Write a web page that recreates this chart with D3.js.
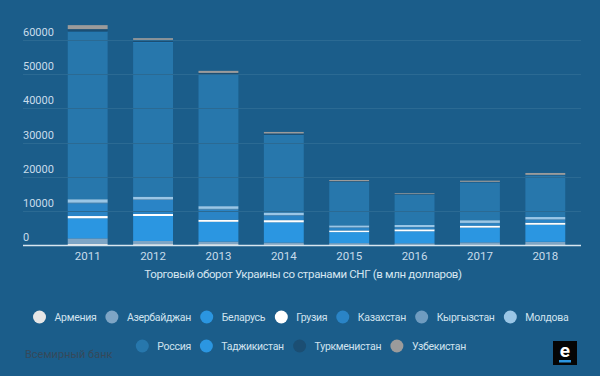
<!DOCTYPE html>
<html>
<head>
<meta charset="utf-8">
<script src="https://cdn.jsdelivr.net/npm/d3@7"></script>
<style>
  html, body { margin: 0; padding: 0; background: #1b5d8a; }
  svg { display: block; font-family: Roboto, "Noto Sans", sans-serif; }
</style>
</head>
<body>
<div id="chart"></div>
<script>
// Trade turnover of Ukraine with CIS countries, mln USD

const years = ['2011', '2012', '2013', '2014', '2015', '2016', '2017', '2018'];
const yTicks = [0, 10000, 20000, 30000, 40000, 50000, 60000];

const countries = ['Армения', 'Азербайджан', 'Беларусь', 'Грузия', 'Казахстан', 'Кыргызстан',
    'Молдова', 'Россия', 'Таджикистан', 'Туркменистан', 'Узбекистан'];
const colors = ['#e6e6e6', '#7ea5c5', '#2b96e1', '#ffffff', '#2a84c6', '#6f9cc0',
    '#9ac6e6', '#2777ac', '#2b96e1', '#1b4e73', '#9b9b9b'];

const armenia      = [300, 250, 250, 150, 100, 100, 150, 150];
const azerbaijan   = [1650, 920, 770, 580, 450, 400, 630, 800];
const belarus      = [5860, 7320, 5770, 5900, 3220, 3510, 4300, 4980];
const georgia      = [670, 590, 590, 650, 500, 590, 600, 600];
const kazakhstan   = [3720, 4100, 3020, 1350, 800, 590, 700, 880];
const kyrgyzstan   = [200, 200, 180, 120, 80, 70, 80, 80];
const moldova      = [1000, 770, 790, 760, 600, 600, 800, 700];
const russia       = [48900, 45100, 38400, 22630, 12670, 8830, 11020, 12140];
const tajikistan   = [150, 150, 150, 100, 60, 50, 50, 50];
const turkmenistan = [730, 640, 450, 400, 200, 150, 150, 150];
const uzbekistan   = [1170, 500, 600, 450, 350, 250, 350, 550];

const series = [armenia, azerbaijan, belarus, georgia, kazakhstan, kyrgyzstan,
    moldova, russia, tajikistan, turkmenistan, uzbekistan];

const width = 600, height = 376;

const svg = d3.select('#chart').append('svg')
    .attr('width', width)
    .attr('height', height);

// Build rows for the stack
const rows = years.map((yr, i) => {
    const row = { year: yr };
    countries.forEach((c, j) => { row[c] = series[j][i]; });
    return row;
});
const stacked = d3.stack().keys(countries)(rows);

// Scales
const x = d3.scaleBand()
    .domain(years)
    .range([55, 578])
    .paddingInner(0.39)
    .paddingOuter(0.195);

const y = d3.scaleLinear()
    .domain([0, 60000])
    .range([245, 40]);

const gridLeft = 23, gridRight = 581;

// Bars
svg.append('g')
    .selectAll('g')
    .data(stacked)
    .join('g')
    .attr('fill', (d, i) => colors[i])
    .selectAll('rect')
    .data(d => d)
    .join('rect')
    .attr('x', d => x(d.data.year))
    .attr('width', x.bandwidth())
    .attr('y', d => y(d[1]))
    .attr('height', d => Math.max(0, y(d[0]) - y(d[1])));

// Grid lines (drawn over bars, subtle)
svg.append('g')
    .selectAll('line')
    .data(yTicks.filter(t => t > 0))
    .join('line')
    .attr('x1', gridLeft)
    .attr('x2', gridRight)
    .attr('y1', d => Math.round(y(d)) + 0.5)
    .attr('y2', d => Math.round(y(d)) + 0.5)
    .attr('stroke', '#2b6a93')
    .attr('stroke-width', 1);

// Baseline
svg.append('line')
    .attr('x1', gridLeft)
    .attr('x2', gridRight)
    .attr('y1', y(0) + 0.5)
    .attr('y2', y(0) + 0.5)
    .attr('stroke', '#d8e6f0')
    .attr('stroke-width', 1.5);

// Y tick labels (above the lines)
svg.append('g')
    .selectAll('text')
    .data(yTicks)
    .join('text')
    .attr('x', gridLeft)
    .attr('y', d => y(d) - 4)
    .attr('fill', '#c8dcea')
    .attr('font-size', 11)
    .text(d => d);

// X axis labels
svg.append('g')
    .selectAll('text')
    .data(years)
    .join('text')
    .attr('x', d => x(d) + x.bandwidth() / 2)
    .attr('y', 260)
    .attr('text-anchor', 'middle')
    .attr('fill', '#c8dcea')
    .attr('font-size', 11.5)
    .text(d => d);

// Axis title
svg.append('text')
    .attr('x', 303)
    .attr('y', 278)
    .attr('text-anchor', 'middle')
    .attr('fill', '#d6e6f1')
    .attr('font-size', 11.5)
    .attr('letter-spacing', -0.35)
    .text('Торговый оборот Украины со странами СНГ (в млн долларов)');

// Legend, two centered rows
const legendRows = [
    { y: 317, items: d3.range(0, 7) },
    { y: 346, items: d3.range(7, 11) }
];

legendRows.forEach(r => {
    const g = svg.append('g');
    let cx = 0;
    r.items.forEach(idx => {
        const item = g.append('g').attr('transform', `translate(${cx},0)`);
        item.append('circle')
            .attr('cx', 0)
            .attr('cy', r.y)
            .attr('r', 6.5)
            .attr('fill', colors[idx]);
        const t = item.append('text')
            .attr('x', 15)
            .attr('y', r.y + 4)
            .attr('fill', '#d0e2ee')
            .attr('font-size', 10.5)
            .attr('letter-spacing', -0.3)
            .text(countries[idx]);
        const w = t.node().getBBox().width;
        cx += 15 + w + 15.5;
    });
    const total = cx - 15.5 + 6.5;
    g.attr('transform', `translate(${301 - total / 2 + 6.5},0)`);
});

// Source
svg.append('text')
    .attr('x', 25)
    .attr('y', 358)
    .attr('fill', '#35495a')
    .attr('font-size', 11)
    .text('Всемирный банк');

// Logo
const logo = svg.append('g').attr('transform', 'translate(553,341)');
logo.append('rect')
    .attr('width', 24)
    .attr('height', 24)
    .attr('fill', '#050505');
logo.append('text')
    .attr('x', 12)
    .attr('y', 16)
    .attr('text-anchor', 'middle')
    .attr('fill', '#ffffff')
    .attr('font-size', 19)
    .attr('font-weight', 'bold')
    .text('e');
logo.append('rect')
    .attr('x', 6)
    .attr('y', 19)
    .attr('width', 12)
    .attr('height', 2.5)
    .attr('fill', '#2b96e1');
</script>
</body>
</html>
